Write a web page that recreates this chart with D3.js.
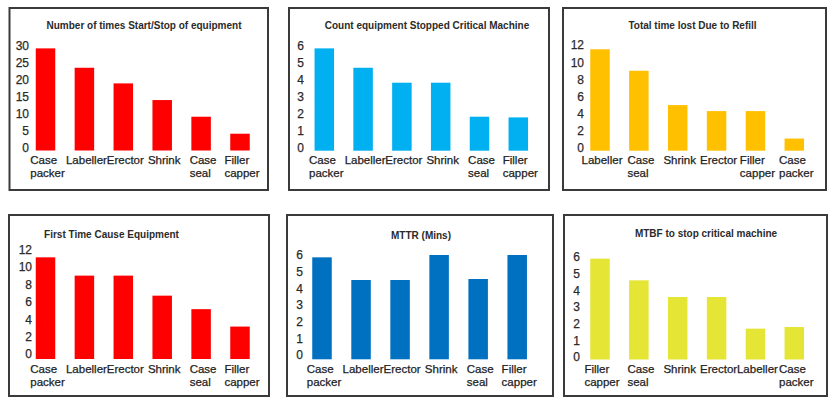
<!DOCTYPE html>
<html>
<head>
<meta charset="utf-8">
<script src="https://cdn.jsdelivr.net/npm/d3@7"></script>
<style>
  html, body { margin: 0; padding: 0; background: #ffffff; }
  svg { display: block; font-family: "Liberation Sans", Arial, sans-serif; }
</style>
</head>
<body>
<svg id="chart" width="828" height="397"></svg>
<script>
// ---- data ----
const startStopCategories = ["Case packer", "Labeller", "Erector", "Shrink", "Case seal", "Filler capper"];
const startStopValues = [29.3, 23.6, 19.0, 14.1, 9.2, 4.2];
const startStopTicks = [0, 5, 10, 15, 20, 25, 30];

const stoppedCategories = ["Case packer", "Labeller", "Erector", "Shrink", "Case seal", "Filler capper"];
const stoppedValues = [5.86, 4.72, 3.84, 3.84, 1.84, 1.8];
const stoppedTicks = [0, 1, 2, 3, 4, 5, 6];

const refillCategories = ["Labeller", "Case seal", "Shrink", "Erector", "Filler capper", "Case packer"];
const refillValues = [11.5, 9.0, 5.0, 4.3, 4.3, 1.1];
const refillTicks = [0, 2, 4, 6, 8, 10, 12];

const firstCauseCategories = ["Case packer", "Labeller", "Erector", "Shrink", "Case seal", "Filler capper"];
const firstCauseValues = [11.1, 9.0, 9.0, 6.7, 5.15, 3.15];
const firstCauseTicks = [0, 2, 4, 6, 8, 10, 12];

const mttrCategories = ["Case packer", "Labeller", "Erector", "Shrink", "Case seal", "Filler capper"];
const mttrValues = [5.86, 4.5, 4.5, 6.0, 4.56, 6.0];
const mttrTicks = [0, 1, 2, 3, 4, 5, 6];

const mtbfCategories = ["Filler capper", "Case seal", "Shrink", "Erector", "Labeller", "Case packer"];
const mtbfValues = [5.9, 4.6, 3.6, 3.6, 1.7, 1.8];
const mtbfTicks = [0, 1, 2, 3, 4, 5, 6];

const titles = [
  "Number of times Start/Stop of equipment",
  "Count equipment Stopped Critical Machine",
  "Total time lost Due to Refill",
  "First Time Cause Equipment",
  "MTTR (Mins)",
  "MTBF to stop critical machine"
];

// ---- layout & styling for each panel (page coordinates) ----
const panels = [
  { cats: startStopCategories, vals: startStopValues, ticks: startStopTicks, title: titles[0], color: "#ff0000",
    box: [9.5, 8, 258.5, 182], c0: 45.5, c1: 240, zero: 148, top: 46, drop: 2.5, tickRight: 29, titleX: 144, titleY: 25 },
  { cats: stoppedCategories, vals: stoppedValues, ticks: stoppedTicks, title: titles[1], color: "#00b0f0",
    box: [289, 8, 260, 182], c0: 324.3, c1: 518.3, zero: 148, top: 46, drop: 2.7, tickRight: 304, titleX: 427, titleY: 25 },
  { cats: refillCategories, vals: refillValues, ticks: refillTicks, title: titles[2], color: "#ffc000",
    box: [563, 8, 263, 182], c0: 600, c1: 794.3, zero: 148, top: 45, drop: 2.7, tickRight: 584, titleX: 692.5, titleY: 25 },
  { cats: firstCauseCategories, vals: firstCauseValues, ticks: firstCauseTicks, title: titles[3], color: "#ff0000",
    box: [9, 215, 260, 181], c0: 45.5, c1: 240, zero: 354, top: 249.5, drop: 5, tickRight: 32, titleX: 111.5, titleY: 234 },
  { cats: mttrCategories, vals: mttrValues, ticks: mttrTicks, title: titles[4], color: "#0070c0",
    box: [287, 215, 266, 181], c0: 322, c1: 517.2, zero: 355, top: 255, drop: 4.3, tickRight: 303, titleX: 421, titleY: 235 },
  { cats: mtbfCategories, vals: mtbfValues, ticks: mtbfTicks, title: titles[5], color: "#e5e535",
    box: [564, 215, 263, 181], c0: 600, c1: 794.3, zero: 357, top: 257, drop: 2.5, tickRight: 580, titleX: 706, titleY: 233 }
];

const BAR_W = 19.5;
const svg = d3.select("#chart");

panels.forEach(p => {
  const g = svg.append("g");

  // frame
  g.append("rect")
    .attr("x", p.box[0]).attr("y", p.box[1])
    .attr("width", p.box[2]).attr("height", p.box[3])
    .attr("fill", "#ffffff")
    .attr("stroke", "#3a3a3a")
    .attr("stroke-width", 2);

  // title
  g.append("text")
    .attr("x", p.titleX).attr("y", p.titleY)
    .attr("dy", "0.35em")
    .attr("text-anchor", "middle")
    .attr("font-size", 10)
    .attr("font-weight", "bold")
    .attr("fill", "#2b2b2b")
    .text(p.title);

  const x = d3.scalePoint().domain(p.cats).range([p.c0, p.c1]);
  const y = d3.scaleLinear().domain([0, d3.max(p.ticks)]).range([p.zero, p.top]);

  // bars
  g.selectAll("rect.bar")
    .data(p.cats.map((c, i) => ({ cat: c, val: p.vals[i] })))
    .join("rect")
    .attr("class", "bar")
    .attr("x", d => x(d.cat) - BAR_W / 2)
    .attr("y", d => y(d.val))
    .attr("width", BAR_W)
    .attr("height", d => y(0) + p.drop - y(d.val))
    .attr("fill", p.color);

  // value axis labels
  const axis = d3.axisLeft(y).tickValues(p.ticks).tickSize(0).tickPadding(0).tickFormat(d3.format("d"));
  const ag = g.append("g")
    .attr("transform", `translate(${p.tickRight},0)`)
    .call(axis);
  ag.select(".domain").remove();
  ag.selectAll("text")
    .attr("font-size", 12)
    .attr("font-family", "\"Liberation Sans\", Arial, sans-serif")
    .attr("fill", "#2a2a2a")
    .attr("stroke", "#2a2a2a")
    .attr("stroke-width", 0.25);

  // category labels (left-aligned lines, block centred under the bar)
  const baseY = y(0) + p.drop + 13.5;
  p.cats.forEach(c => {
    const words = c.split(" ");
    const t = g.append("text")
      .attr("font-size", 11.5)
      .attr("fill", "#222222")
      .attr("stroke", "#222222")
      .attr("stroke-width", 0.25)
      .attr("text-anchor", "start");
    words.forEach((w, i) => {
      t.append("tspan").attr("x", 0).attr("y", baseY + i * 13).text(w);
    });
    let wMax = 0;
    t.selectAll("tspan").each(function () {
      wMax = Math.max(wMax, this.getComputedTextLength());
    });
    t.attr("transform", `translate(${x(c) - wMax / 2 + 2},0)`);
  });
});
</script>
</body>
</html>
